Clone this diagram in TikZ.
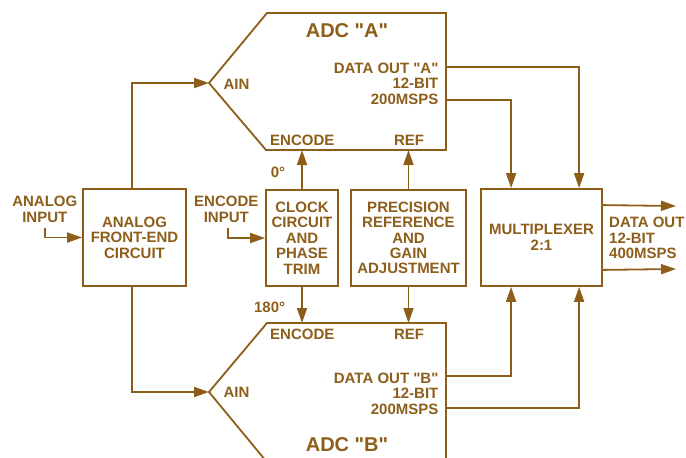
\documentclass[tikz,border=0pt]{standalone}
\usepackage{fontspec}
\setmainfont{Liberation Sans}
\usetikzlibrary{arrows.meta}
\definecolor{adbrown}{RGB}{140,94,26}
\newcommand{\sq}{\XeTeXglyph\XeTeXglyphindex "quotedbl"\relax}
\begin{document}
\begin{tikzpicture}[x=1pt,y=-1pt,line width=1.8pt,draw=adbrown,
  every node/.style={font=\fontsize{15}{15.4}\selectfont\bfseries,text=adbrown,inner sep=0pt},
  blk/.style={draw=adbrown,align=center},
  lbl/.style={align=center},
  title/.style={font=\fontsize{20}{22}\selectfont\bfseries},
  arr/.style={-{Triangle[length=15pt,width=10pt]}}]
\clip (0,0) rectangle (686,458);
% ADC A
\coordinate (aTip) at (209,83);
\coordinate (aTL) at (267,13);
\coordinate (aTR) at (446,13);
\coordinate (aBR) at (446,150);
\coordinate (aBL) at (266,150);
\draw (aTip) -- (aTL) -- (aTR) -- (aBR) -- (aBL) -- cycle;
% ADC B
\coordinate (bTip) at (209,392);
\coordinate (bTL) at (267,323);
\coordinate (bTR) at (446,323);
\coordinate (bBR) at (446,461);
\coordinate (bBL) at (266,461);
\draw (bTip) -- (bTL) -- (bTR) -- (bBR) -- (bBL) -- cycle;
% boxes
\node[blk,minimum width=103pt,minimum height=97pt] (fe) at (134.5,237.5) {ANALOG\\FRONT-END\\CIRCUIT};
\node[blk,minimum width=72pt,minimum height=96pt] (clk) at (302,238) {CLOCK\\CIRCUIT\\AND\\PHASE\\TRIM};
\node[blk,minimum width=115pt,minimum height=96pt] (prec) at (408.5,238) {PRECISION\\REFERENCE\\AND\\GAIN\\ADJUSTMENT};
\node[blk,minimum width=121pt,minimum height=97pt] (mux) at (541.5,237.5) {MULTIPLEXER\\2:1};
% ADC labels
\node[title,anchor=base] (ta) at (347,37.3) {ADC \sq A\sq};
\node[title,anchor=base] (tb) at (347,451.7) {ADC \sq B\sq};
\node[anchor=base west] (ainA) at (222.7,89) {AIN};
\node[anchor=base west] (ainB) at (222.7,397.7) {AIN};
\node[align=right,anchor=north east] (doA) at (439.3,62) {DATA OUT \sq A\sq\\12-BIT\\200MSPS};
\node[align=right,anchor=north east] (doB) at (439.3,372) {DATA OUT \sq B\sq\\12-BIT\\200MSPS};
\node[anchor=base west] (encA) at (269.3,145.7) {ENCODE};
\node[anchor=base] (refA) at (409,145.7) {REF};
\node[anchor=base west] (encB) at (269.3,339.3) {ENCODE};
\node[anchor=base] (refB) at (409,339.3) {REF};
\node[anchor=base east] (deg0) at (286,177.3) {0°};
\node[anchor=base east] (deg180) at (286,312.7) {180°};
% input / output labels
\node[lbl,anchor=north] (ainLbl) at (44.8,195.3) {ANALOG\\INPUT};
\node[lbl,anchor=north] (encLbl) at (226.3,195.3) {ENCODE\\INPUT};
\node[align=left,anchor=north west] (outLbl) at (608.3,216.6) {DATA OUT\\12-BIT\\400MSPS};
% connectors
\coordinate (ainS) at (44.7,228);
\coordinate (encS) at (228,228);
\draw[arr] (ainS) |- (fe.west);
\draw[arr] (encS) |- (clk.west);
\draw[arr] ([xshift=-2.5pt]fe.north) |- (aTip);
\draw[arr] ([xshift=-2.5pt]fe.south) |- (bTip);
\draw[arr] (clk.north) -- (clk.north |- aBL);
\draw[arr] (clk.south) -- (clk.south |- bTL);
\draw[arr] (prec.north) -- (prec.north |- aBL);
\draw[arr] (prec.south) -- (prec.south |- bTL);
\coordinate (aD1) at (446,67);
\coordinate (aD2) at (446,100);
\coordinate (bD1) at (446,376);
\coordinate (bD2) at (446,408);
\draw[arr] (aD1) -| ([xshift=99pt]mux.north west);
\draw[arr] (aD2) -| ([xshift=31pt]mux.north west);
\draw[arr] (bD1) -| ([xshift=31pt]mux.south west);
\draw[arr] (bD2) -| ([xshift=99pt]mux.south west);
\coordinate (o1) at (676,206);
\coordinate (o2) at (676,269);
\draw[arr] ([yshift=-17pt]mux.north east) -- (o1);
\draw[arr] ([yshift=17pt]mux.south east) -- (o2);
\end{tikzpicture}
\end{document}
